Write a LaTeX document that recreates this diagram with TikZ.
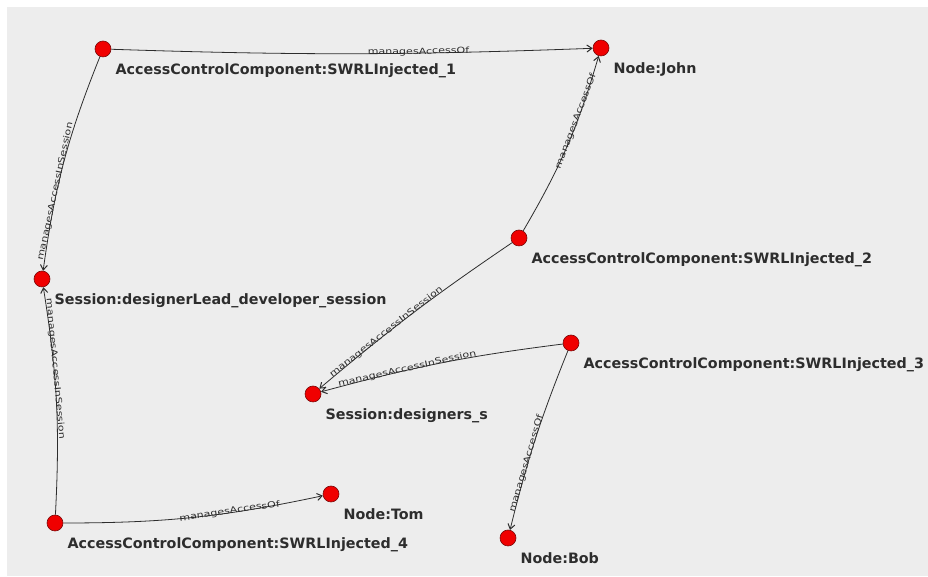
\documentclass[tikz,border=0pt]{standalone}
\usepackage{fontspec}
\setmainfont{DejaVu Sans}
\usetikzlibrary{arrows.meta, positioning}
\definecolor{bggray}{RGB}{237,237,237}
\definecolor{dotred}{RGB}{240,0,0}
\definecolor{dotrim}{RGB}{120,10,10}
\definecolor{inkgray}{RGB}{45,45,45}
\newcommand{\edgetext}[1]{\scalebox{1.3}[1]{#1}}
\tikzset{
  dot/.style={circle,draw=dotrim,fill=dotred,line width=0.6pt,minimum size=16pt,inner sep=0pt},
  tag/.style={inner sep=0pt,text=inkgray,font=\bfseries\fontsize{14.3}{15}\selectfont},
  rel/.style={draw=inkgray,line width=0.8pt,-{Straight Barb[length=5pt,width=7pt,line width=1pt]}},
  rellabel/.style={sloped,pos=0.65,anchor=base,yshift=-1pt,inner sep=0pt,text=inkgray,font=\fontsize{8.5}{9}\selectfont}
}

\begin{document}
\begin{tikzpicture}[x=1pt,y=1pt,node distance=9pt and 6.5pt]
\useasboundingbox (0,0) rectangle (928,577);
\fill[bggray] (7,1) rectangle (928,570);
% dots
\node[dot] (a1) at (103,528) {};
\node[dot] (john) at (601,529) {};
\node[dot] (a2) at (519,339) {};
\node[dot] (s1) at (42,298) {};
\node[dot] (s2) at (313,183) {};
\node[dot] (a3) at (571,234) {};
\node[dot] (tom) at (331,83) {};
\node[dot] (a4) at (55,54) {};
\node[dot] (bob) at (508,39) {};
% names
\node[tag, below right=of a1] (a1t) {AccessControlComponent:SWRLInjected\_1};
\node[tag, below right=of john] (johnt) {Node:John};
\node[tag, below right=of a2] (a2t) {AccessControlComponent:SWRLInjected\_2};
\node[tag, below right=of s1] (s1t) {Session:designerLead\_developer\_session};
\node[tag, below right=of s2] (s2t) {Session:designers\_s};
\node[tag, below right=of a3] (a3t) {AccessControlComponent:SWRLInjected\_3};
\node[tag, below right=of tom] (tomt) {Node:Tom};
\node[tag, below right=of a4] (a4t) {AccessControlComponent:SWRLInjected\_4};
\node[tag, below right=of bob] (bobt) {Node:Bob};
% relations
\draw[rel] (a1) to[bend right=2] node[rellabel] {\edgetext{managesAccessOf}} (john);
\draw[rel] (a2) to[bend right=7] node[rellabel] {\edgetext{managesAccessOf}} (john);
\draw[rel] (a1) to[bend right=7] node[rellabel] {\edgetext{managesAccessInSession}} (s1);
\draw[rel] (a4) to[bend right=6] node[rellabel] {\edgetext{managesAccessInSession}} (s1);
\draw[rel] (a2) to[bend right=3] node[rellabel] {\edgetext{managesAccessInSession}} (s2);
\draw[rel] (a3) to[bend right=4] node[rellabel] {\edgetext{managesAccessInSession}} (s2);
\draw[rel] (a3) to[bend right=4] node[rellabel] {\edgetext{managesAccessOf}} (bob);
\draw[rel] (a4) to[bend right=6] node[rellabel] {\edgetext{managesAccessOf}} (tom);
\end{tikzpicture}
\end{document}
